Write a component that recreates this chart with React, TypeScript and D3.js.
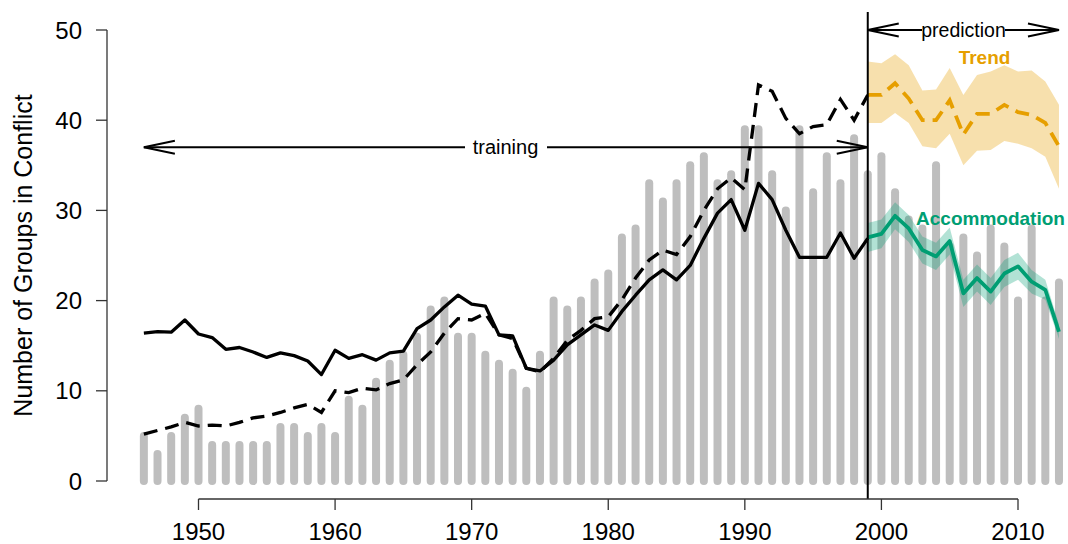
import React from "react";
import * as d3 from "d3";

const years: number[] = d3.range(1946, 2014);
const groupsInConflict: number[] = [
  5, 3, 5, 7, 8, 4, 4, 4, 4, 4,
  6, 6, 5, 6, 5, 9, 8, 11, 13, 14,
  16, 19, 20, 16, 16, 14, 13, 12, 10, 14,
  20, 19, 20, 22, 23, 27, 28, 33, 31, 33,
  35, 36, 33, 34, 39, 39, 34, 30, 39, 32,
  36, 33, 38, 34, 36, 32, 29, 28, 35, 26,
  27, 25, 28, 26, 20, 28, 20, 22,
];
const trainYears: number[] = d3.range(1946, 2000);
const solidFit: number[] = [
  16.4, 16.55, 16.5, 17.85, 16.3, 15.9, 14.6, 14.8, 14.3, 13.7,
  14.2, 13.9, 13.3, 11.8, 14.5, 13.6, 14.0, 13.4, 14.2, 14.4,
  16.9, 17.85, 19.3, 20.6, 19.6, 19.4, 16.2, 16.1, 12.5, 12.2,
  13.4, 15.1, 16.2, 17.3, 16.7, 18.8, 20.6, 22.3, 23.4, 22.3,
  23.9, 26.9, 29.7, 31.2, 27.8, 33.0, 31.2, 27.8, 24.8, 24.8,
  24.8, 27.5, 24.7, 26.9,
];
const dashedFit: number[] = [
  5.2, 5.6, 6.0, 6.5, 6.1, 6.2, 6.1, 6.5, 7.0, 7.2,
  7.6, 8.1, 8.5, 7.6, 10.0, 9.8, 10.3, 10.1, 10.8, 11.2,
  12.9, 14.3, 16.4, 18.0, 17.85, 18.6, 16.2, 15.8, 12.5, 12.1,
  13.6, 15.6, 16.7, 18.0, 18.2, 20.1, 22.5, 24.5, 25.6, 25.1,
  27.1, 30.0, 32.4, 33.6, 32.3, 43.9, 43.2, 40.2, 38.5, 39.3,
  39.5, 42.3, 40.0, 42.8,
];
const predYears: number[] = d3.range(1999, 2014);
const trend: number[] = [42.8, 42.8, 44.1, 42.4, 40.0, 40.0, 42.2, 38.4, 40.7, 40.7, 41.7, 40.9, 40.6, 39.7, 37.1];
const trendUpper: number[] = [46.5, 46.3, 47.3, 46.1, 43.3, 43.4, 45.8, 42.8, 45.0, 45.4, 46.1, 45.4, 45.5, 44.3, 41.7];
const trendLower: number[] = [39.7, 39.7, 40.8, 39.7, 37.1, 36.9, 38.5, 35.0, 36.6, 36.7, 37.7, 37.4, 36.9, 35.95, 32.4];
const accommodation: number[] = [27.0, 27.4, 29.4, 28.0, 25.6, 24.9, 26.6, 20.8, 22.5, 21.0, 23.0, 23.8, 22.1, 21.2, 16.55];
const accUpper: number[] = [28.6, 29.0, 30.9, 29.5, 27.1, 26.4, 28.1, 22.3, 24.0, 22.5, 24.5, 25.3, 23.4, 22.3, 17.35];
const accLower: number[] = [25.4, 25.8, 27.9, 26.5, 24.1, 23.4, 25.1, 19.3, 21.0, 19.5, 21.5, 22.3, 20.8, 20.1, 15.75];
const yTicks: number[] = [0, 10, 20, 30, 40, 50];
const xTicks: number[] = [1950, 1960, 1970, 1980, 1990, 2000, 2010];
const yTitle = "Number of Groups in Conflict";
const trainLabel = "training";
const predLabel = "prediction";
const trendLabel = "Trend";
const accLabel = "Accommodation";

const GREEN = "#009E73";
const ORANGE = "#E69F00";
const FONT = "'Liberation Sans', Arial, Helvetica, sans-serif";

export default function App() {
  const W = 1068, H = 544;
  const x = d3.scaleLinear().domain([1950, 2010]).range([198.5, 1018]);
  const y = d3.scaleLinear().domain([0, 50]).range([481, 30]);

  const line = d3.line<[number, number]>().x((d) => x(d[0])).y((d) => y(d[1]));
  const area = d3
    .area<[number, number, number]>()
    .x((d) => x(d[0]))
    .y0((d) => y(d[1]))
    .y1((d) => y(d[2]));

  const solidPts = trainYears.map((yr, i) => [yr, solidFit[i]] as [number, number]);
  const dashedPts = trainYears.map((yr, i) => [yr, dashedFit[i]] as [number, number]);
  const trendPts = predYears.map((yr, i) => [yr, trend[i]] as [number, number]);
  const accPts = predYears.map((yr, i) => [yr, accommodation[i]] as [number, number]);
  const trendBand = predYears.map((yr, i) => [yr, trendLower[i], trendUpper[i]] as [number, number, number]);
  const accBand = predYears.map((yr, i) => [yr, accLower[i], accUpper[i]] as [number, number, number]);

  const xSplit = x(1999);
  const yTrain = y(37);
  const yPred = y(50);
  const xStart = x(1946);
  const xEnd = x(2013);

  const chevron = (tx: number, ty: number, dir: number) =>
    `M${tx + dir * 31},${ty - 6.5}L${tx},${ty}L${tx + dir * 31},${ty + 6.5}`;

  const axisColor = "#333";

  return (
    <svg
      width={W}
      height={H}
      style={{ position: "absolute", left: 0, top: 0, background: "#fff" }}
      fontFamily={FONT}
    >
      {/* bars */}
      {years.map((yr, i) => (
        <line
          key={yr}
          x1={x(yr)}
          x2={x(yr)}
          y1={y(0)}
          y2={y(groupsInConflict[i])}
          stroke="#BEBEBE"
          strokeWidth={8}
          strokeLinecap="round"
        />
      ))}

      {/* bands */}
      <path d={area(trendBand) || ""} fill={ORANGE} fillOpacity={0.32} stroke="none" />
      <path d={area(accBand) || ""} fill={GREEN} fillOpacity={0.3} stroke="none" />

      {/* training fits */}
      <path d={line(dashedPts) || ""} fill="none" stroke="#000" strokeWidth={3.3} strokeDasharray="14 8" />
      <path d={line(solidPts) || ""} fill="none" stroke="#000" strokeWidth={3.3} strokeLinejoin="round" />

      {/* predictions */}
      <path d={line(trendPts) || ""} fill="none" stroke={ORANGE} strokeWidth={3.8} strokeDasharray="14 8" />
      <path d={line(accPts) || ""} fill="none" stroke={GREEN} strokeWidth={3.8} strokeLinejoin="round" />

      {/* vertical split line */}
      <line x1={xSplit} x2={xSplit} y1={y(52)} y2={y(-2)} stroke="#000" strokeWidth={2} />

      {/* training arrow */}
      <line x1={xStart} x2={465} y1={yTrain} y2={yTrain} stroke="#000" strokeWidth={2} />
      <line x1={547} x2={xSplit} y1={yTrain} y2={yTrain} stroke="#000" strokeWidth={2} />
      <path d={chevron(xStart, yTrain, 1)} fill="none" stroke="#000" strokeWidth={2} />
      <path d={chevron(xSplit, yTrain, -1)} fill="none" stroke="#000" strokeWidth={2} />
      <text x={505.5} y={yTrain + 7} textAnchor="middle" fontSize={20} fill="#000">
        {trainLabel}
      </text>

      {/* prediction arrow */}
      <line x1={xSplit} x2={922} y1={yPred} y2={yPred} stroke="#000" strokeWidth={2} />
      <line x1={1005} x2={xEnd} y1={yPred} y2={yPred} stroke="#000" strokeWidth={2} />
      <path d={chevron(xSplit, yPred, 1)} fill="none" stroke="#000" strokeWidth={2} />
      <path d={chevron(xEnd, yPred, -1)} fill="none" stroke="#000" strokeWidth={2} />
      <text x={963.5} y={yPred + 6.5} textAnchor="middle" fontSize={19.5} fill="#000">
        {predLabel}
      </text>

      {/* series labels */}
      <text x={984.5} y={63.5} textAnchor="middle" fontSize={19} fontWeight="bold" fill={ORANGE}>
        {trendLabel}
      </text>
      <text x={990.5} y={225} textAnchor="middle" fontSize={19} fontWeight="bold" fill={GREEN}>
        {accLabel}
      </text>

      {/* y axis */}
      <line x1={107} x2={107} y1={y(0)} y2={y(50)} stroke={axisColor} strokeWidth={1.3} />
      {yTicks.map((t) => (
        <g key={t}>
          <line x1={96} x2={107} y1={y(t)} y2={y(t)} stroke={axisColor} strokeWidth={1.3} />
          <text x={82} y={y(t) + 8.5} textAnchor="end" fontSize={24} fill="#000">
            {t}
          </text>
        </g>
      ))}
      <text
        transform={`translate(32,${(y(0) + y(50)) / 2}) rotate(-90)`}
        textAnchor="middle"
        fontSize={25}
        fill="#000"
      >
        {yTitle}
      </text>

      {/* x axis */}
      <line x1={x(1950)} x2={x(2010)} y1={499} y2={499} stroke={axisColor} strokeWidth={1.3} />
      {xTicks.map((t) => (
        <g key={t}>
          <line x1={x(t)} x2={x(t)} y1={499} y2={510} stroke={axisColor} strokeWidth={1.3} />
          <text x={x(t)} y={540} textAnchor="middle" fontSize={24} fill="#000">
            {t}
          </text>
        </g>
      ))}
    </svg>
  );
}
